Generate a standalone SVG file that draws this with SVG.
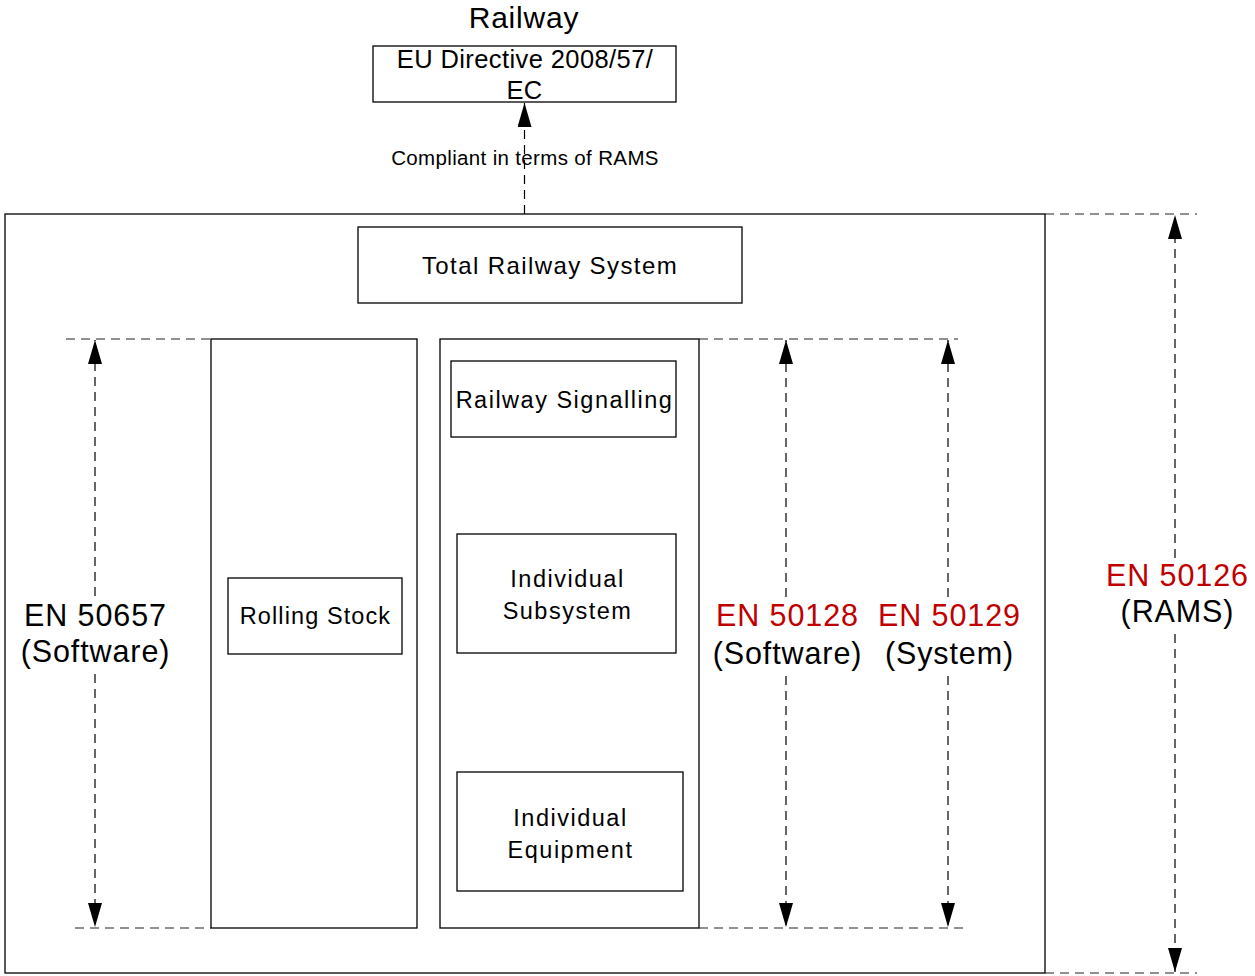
<svg xmlns="http://www.w3.org/2000/svg" width="1255" height="976" viewBox="0 0 1255 976">
  <style>
    .box { fill: #ffffff; stroke: #000000; stroke-width: 1.3; }
    .frame { fill: none; stroke: #000000; stroke-width: 1.3; }
    .txt { font-family: "Liberation Sans", Arial, sans-serif; fill: #000000; text-anchor: middle; }
    .red { fill: #c00000; }
    .dash { fill: none; stroke: #000000; stroke-width: 1.2; stroke-dasharray: 9 6; }
    .guide { fill: none; stroke: #222222; stroke-width: 1.2; stroke-dasharray: 9 6; }
  </style>
  <defs>
    <marker id="tip" viewBox="0 0 24 14" refX="24" refY="7" markerWidth="24" markerHeight="14" orient="auto" markerUnits="userSpaceOnUse">
      <path d="M 0 0 L 24 7 L 0 14 Z" fill="#000000"/>
    </marker>
  </defs>

  <!-- title -->
  <text class="txt" x="524" y="28" font-size="30" letter-spacing="0.8">Railway</text>

  <!-- outer railway frame -->
  <g id="railway-frame">
    <rect class="frame" x="5" y="214" width="1040" height="759"/>
  </g>

  <g id="eu-directive">
    <rect class="box" x="373" y="46" width="303" height="56"/>
    <text class="txt" x="525" y="68" font-size="25.5" letter-spacing="0.4">EU Directive 2008/57/</text>
    <text class="txt" x="524.5" y="99" font-size="25.5" letter-spacing="0.4">EC</text>
  </g>

  <g id="total-railway-system">
    <rect class="box" x="358" y="227" width="384" height="76"/>
    <text class="txt" x="550" y="274" font-size="24" letter-spacing="1.4">Total Railway System</text>
  </g>

  <g id="rolling-stock-column">
    <rect class="box" x="211" y="339" width="206" height="589"/>
  </g>
  <g id="rolling-stock">
    <rect class="box" x="228" y="578" width="174" height="76"/>
    <text class="txt" x="315.5" y="624" font-size="23.5" letter-spacing="1.1">Rolling Stock</text>
  </g>

  <g id="infrastructure-column">
    <rect class="box" x="440" y="339" width="259" height="589"/>
  </g>
  <g id="railway-signalling">
    <rect class="box" x="451" y="361" width="225" height="76"/>
    <text class="txt" x="564.5" y="408" font-size="23.5" letter-spacing="1.5">Railway Signalling</text>
  </g>
  <g id="individual-subsystem">
    <rect class="box" x="457" y="534" width="219" height="119"/>
    <text class="txt" x="567.5" y="587" font-size="23.5" letter-spacing="1.5">Individual</text>
    <text class="txt" x="567.5" y="619" font-size="23.5" letter-spacing="1.5">Subsystem</text>
  </g>
  <g id="individual-equipment">
    <rect class="box" x="457" y="772" width="226" height="119"/>
    <text class="txt" x="570.5" y="826" font-size="23.5" letter-spacing="1.5">Individual</text>
    <text class="txt" x="570.5" y="858" font-size="23.5" letter-spacing="1.5">Equipment</text>
  </g>

  <!-- connectors and scope dimension lines -->
  <g id="connectors">
    <!-- compliance link to the directive -->
    <line class="dash" x1="524.5" y1="214" x2="524.5" y2="103" marker-end="url(#tip)"/>

    <!-- extent guides -->
    <line class="guide" x1="66" y1="339" x2="211" y2="339"/>
    <line class="guide" x1="75" y1="928" x2="211" y2="928"/>
    <line class="guide" x1="699" y1="339" x2="958" y2="339"/>
    <line class="guide" x1="699" y1="928" x2="968" y2="928"/>
    <line class="guide" x1="1045" y1="214" x2="1197" y2="214"/>
    <line class="guide" x1="1045" y1="973" x2="1197" y2="973"/>

    <!-- EN 50657 span -->
    <line class="dash" x1="95" y1="596" x2="95" y2="340" marker-end="url(#tip)"/>
    <line class="dash" x1="95" y1="674" x2="95" y2="927" marker-end="url(#tip)"/>
    <!-- EN 50128 span -->
    <line class="dash" x1="786" y1="597" x2="786" y2="340" marker-end="url(#tip)"/>
    <line class="dash" x1="786" y1="676" x2="786" y2="927" marker-end="url(#tip)"/>
    <!-- EN 50129 span -->
    <line class="dash" x1="948" y1="597" x2="948" y2="340" marker-end="url(#tip)"/>
    <line class="dash" x1="948" y1="676" x2="948" y2="927" marker-end="url(#tip)"/>
    <!-- EN 50126 span -->
    <line class="dash" x1="1175" y1="558" x2="1175" y2="215" marker-end="url(#tip)"/>
    <line class="dash" x1="1175" y1="634" x2="1175" y2="972" marker-end="url(#tip)"/>
  </g>

  <!-- connector labels -->
  <g id="labels">
    <text class="txt" x="525" y="165" font-size="20.5" letter-spacing="0.35">Compliant in terms of RAMS</text>

    <text class="txt" x="95.5" y="626" font-size="30.5" letter-spacing="0.9">EN 50657</text>
    <text class="txt" x="95.5" y="662" font-size="30.5" letter-spacing="0.9">(Software)</text>

    <text class="txt red" x="787.5" y="626" font-size="30.5" letter-spacing="0.9">EN 50128</text>
    <text class="txt" x="787.5" y="664" font-size="30.5" letter-spacing="0.9">(Software)</text>

    <text class="txt red" x="949.5" y="626" font-size="30.5" letter-spacing="0.9">EN 50129</text>
    <text class="txt" x="949.5" y="664" font-size="30.5" letter-spacing="0.9">(System)</text>

    <text class="txt red" x="1177.5" y="586" font-size="30.5" letter-spacing="0.9">EN 50126</text>
    <text class="txt" x="1177.5" y="622" font-size="30.5" letter-spacing="0.9">(RAMS)</text>
  </g>
</svg>
